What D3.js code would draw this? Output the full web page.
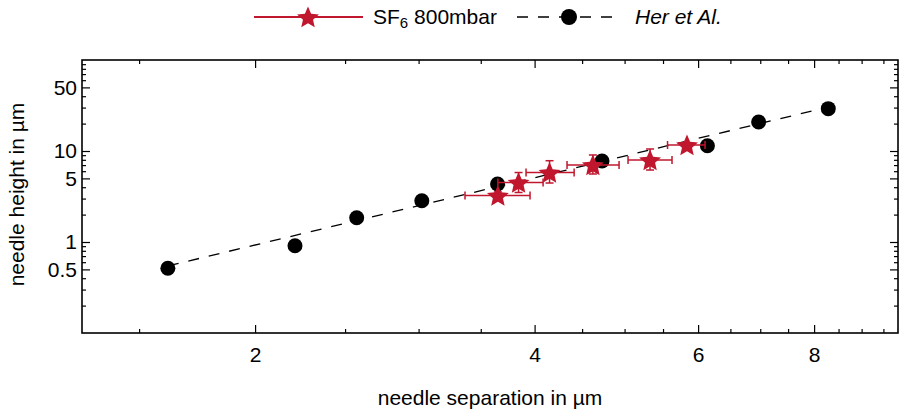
<!DOCTYPE html>
<html><head><meta charset="utf-8">
<script src="https://cdn.jsdelivr.net/npm/d3@7/dist/d3.min.js"></script>
<style>
body{margin:0;background:#fff;}
svg{display:block;font-family:"Liberation Sans",Arial,sans-serif;}
</style></head>
<body><svg id="c" width="902" height="410"></svg>
<script>
// Her et Al. reference points (needle separation µm, needle height µm)
const herX = [1.611, 2.208, 2.573, 3.024, 3.649, 4.728, 6.14, 6.972, 8.286];
const herY = [0.514, 0.911, 1.849, 2.84, 4.34, 7.76, 11.43, 20.8, 29.2];
// Her et Al. fit line endpoints
const fitX = [1.611, 8.286];
const fitY = [0.545, 30.4];
// SF6 800mbar measurements
const sfX    = [3.652, 3.844, 4.151, 4.622, 5.326, 5.837];
const sfXlo  = [3.366, 3.652, 3.916, 4.335, 5.043, 5.562];
const sfXhi  = [3.955, 4.085, 4.412, 4.932, 5.624, 6.104];
const sfY    = [3.24, 4.51, 5.80, 7.02, 7.96, 11.64];
const sfYlo  = [2.95, 3.50, 4.45, 5.59, 6.18, 11.1];
const sfYhi  = [3.55, 5.80, 7.82, 9.04, 10.52, 12.2];
// ticks
const xMajorTicks = [2, 4, 6, 8];
const xMinorTicks = [1.5, 2.5, 3, 3.5, 4.5, 5, 5.5, 6.5, 7, 7.5, 8.5, 9, 9.5];
const yMajorTicks = [0.5, 1, 5, 10, 50];
const yMinorTicks = [0.2,0.3,0.4,0.6,0.7,0.8,0.9,2,3,4,6,7,8,9,20,30,40,60,70,80,90];
const seriesNames = ["800mbar", "Her et Al."];

const red = "#c0172e";
const FS = "21px";
const svg = d3.select("#c");
const L = 82, R = 898, T = 60, B = 333;
const x = d3.scaleLog().domain([1.302, 9.85]).range([L, R]);
const y = d3.scaleLog().domain([0.1, 100]).range([B, T]);

// five-pointed star with fuller arms
function starType(ratio){
  return {draw(ctx, size){
    const r = Math.sqrt(size);
    for(let i=0;i<10;i++){
      const a = -Math.PI/2 + i*Math.PI/5;
      const rr = i%2===0 ? r : r*ratio;
      const px = rr*Math.cos(a), py = rr*Math.sin(a);
      if(i===0) ctx.moveTo(px,py); else ctx.lineTo(px,py);
    }
    ctx.closePath();
  }};
}

function styleAxis(g){
  g.select(".domain").remove();
  g.selectAll(".tick line").attr("stroke","#000").attr("stroke-width",1.2);
  g.selectAll(".tick text").attr("fill","#000").style("font-size",FS).style("font-family",'"Liberation Sans",Arial,sans-serif');
}
// bottom
svg.append("g").attr("transform",`translate(0,${B})`)
  .call(d3.axisBottom(x).tickValues(xMajorTicks).tickSize(-8).tickPadding(14).tickFormat(d3.format("d"))).call(styleAxis);
svg.append("g").attr("transform",`translate(0,${B})`)
  .call(d3.axisBottom(x).tickValues(xMinorTicks).tickSize(-4).tickFormat("")).call(styleAxis);
// top
svg.append("g").attr("transform",`translate(0,${T})`)
  .call(d3.axisTop(x).tickValues(xMajorTicks).tickSize(-8).tickFormat("")).call(styleAxis);
svg.append("g").attr("transform",`translate(0,${T})`)
  .call(d3.axisTop(x).tickValues(xMinorTicks).tickSize(-4).tickFormat("")).call(styleAxis);
// left
svg.append("g").attr("transform",`translate(${L},0)`)
  .call(d3.axisLeft(y).tickValues(yMajorTicks).tickSize(-8).tickPadding(5).tickFormat(d => String(d))).call(styleAxis);
svg.append("g").attr("transform",`translate(${L},0)`)
  .call(d3.axisLeft(y).tickValues(yMinorTicks).tickSize(-4).tickFormat("")).call(styleAxis);
// right
svg.append("g").attr("transform",`translate(${R},0)`)
  .call(d3.axisRight(y).tickValues(yMajorTicks).tickSize(-8).tickFormat("")).call(styleAxis);
svg.append("g").attr("transform",`translate(${R},0)`)
  .call(d3.axisRight(y).tickValues(yMinorTicks).tickSize(-4).tickFormat("")).call(styleAxis);

// frame
svg.append("rect").attr("x",L).attr("y",T).attr("width",R-L).attr("height",B-T)
  .attr("fill","none").attr("stroke","#000").attr("stroke-width",1.6);

// axis labels
svg.append("text").attr("x",(L+R)/2).attr("y",405).attr("text-anchor","middle")
  .style("font-size",FS).text("needle separation in µm");
svg.append("text").attr("transform",`translate(24,${(T+B)/2 - 2}) rotate(-90)`).attr("text-anchor","middle")
  .style("font-size",FS).text("needle height in µm");

// fit line
const line = d3.line().x(d=>x(d[0])).y(d=>y(d[1]));
svg.append("path").datum(fitX.map((v,i)=>[v,fitY[i]])).attr("d",line)
  .attr("fill","none").attr("stroke","#000").attr("stroke-width",1.3).attr("stroke-dasharray","11,10");

// Her circles
svg.append("g").selectAll("circle").data(herX.map((v,i)=>[v,herY[i]])).join("circle")
  .attr("cx",d=>x(d[0])).attr("cy",d=>y(d[1])).attr("r",7.5).attr("fill","#000");

// SF6 error bars
const eg = svg.append("g").attr("stroke",red).attr("stroke-width",1.5).attr("fill","none");
sfX.forEach((v,i)=>{
  const cy = y(sfY[i]), cx = x(v);
  const x0 = x(sfXlo[i]), x1 = x(sfXhi[i]);
  const y0 = y(sfYlo[i]), y1 = y(sfYhi[i]);
  eg.append("line").attr("x1",x0).attr("x2",x1).attr("y1",cy).attr("y2",cy);
  eg.append("line").attr("x1",x0).attr("x2",x0).attr("y1",cy-4).attr("y2",cy+4);
  eg.append("line").attr("x1",x1).attr("x2",x1).attr("y1",cy-4).attr("y2",cy+4);
  eg.append("line").attr("x1",cx).attr("x2",cx).attr("y1",y0).attr("y2",y1);
  eg.append("line").attr("x1",cx-4).attr("x2",cx+4).attr("y1",y0).attr("y2",y0);
  eg.append("line").attr("x1",cx-4).attr("x2",cx+4).attr("y1",y1).attr("y2",y1);
});
const star = d3.symbol().type(starType(0.46)).size(132);
svg.append("g").selectAll("path").data(sfX.map((v,i)=>[v,sfY[i]])).join("path")
  .attr("transform",d=>`translate(${x(d[0])},${y(d[1])+1})`).attr("d",star()).attr("fill",red);

// legend
const lg = svg.append("g");
const ly = 17;
lg.append("line").attr("x1",254).attr("x2",363).attr("y1",ly).attr("y2",ly).attr("stroke",red).attr("stroke-width",2);
lg.append("path").attr("transform",`translate(308,${ly+1})`).attr("d",d3.symbol().type(starType(0.46)).size(132)()).attr("fill",red);
const t1 = lg.append("text").attr("x",373).attr("y",ly+7).style("font-size",FS);
t1.append("tspan").text("SF");
t1.append("tspan").attr("dy",4).style("font-size","15px").text("6");
t1.append("tspan").attr("dy",-4).text(" " + seriesNames[0]);
lg.append("line").attr("x1",517).attr("x2",614).attr("y1",ly).attr("y2",ly).attr("stroke","#000")
  .attr("stroke-width",1.3).attr("stroke-dasharray","11,10");
lg.append("circle").attr("cx",569).attr("cy",ly).attr("r",8).attr("fill","#000");
lg.append("text").attr("x",635).attr("y",ly+7).style("font-size",FS).style("font-style","italic").text(seriesNames[1]);
</script></body></html>
